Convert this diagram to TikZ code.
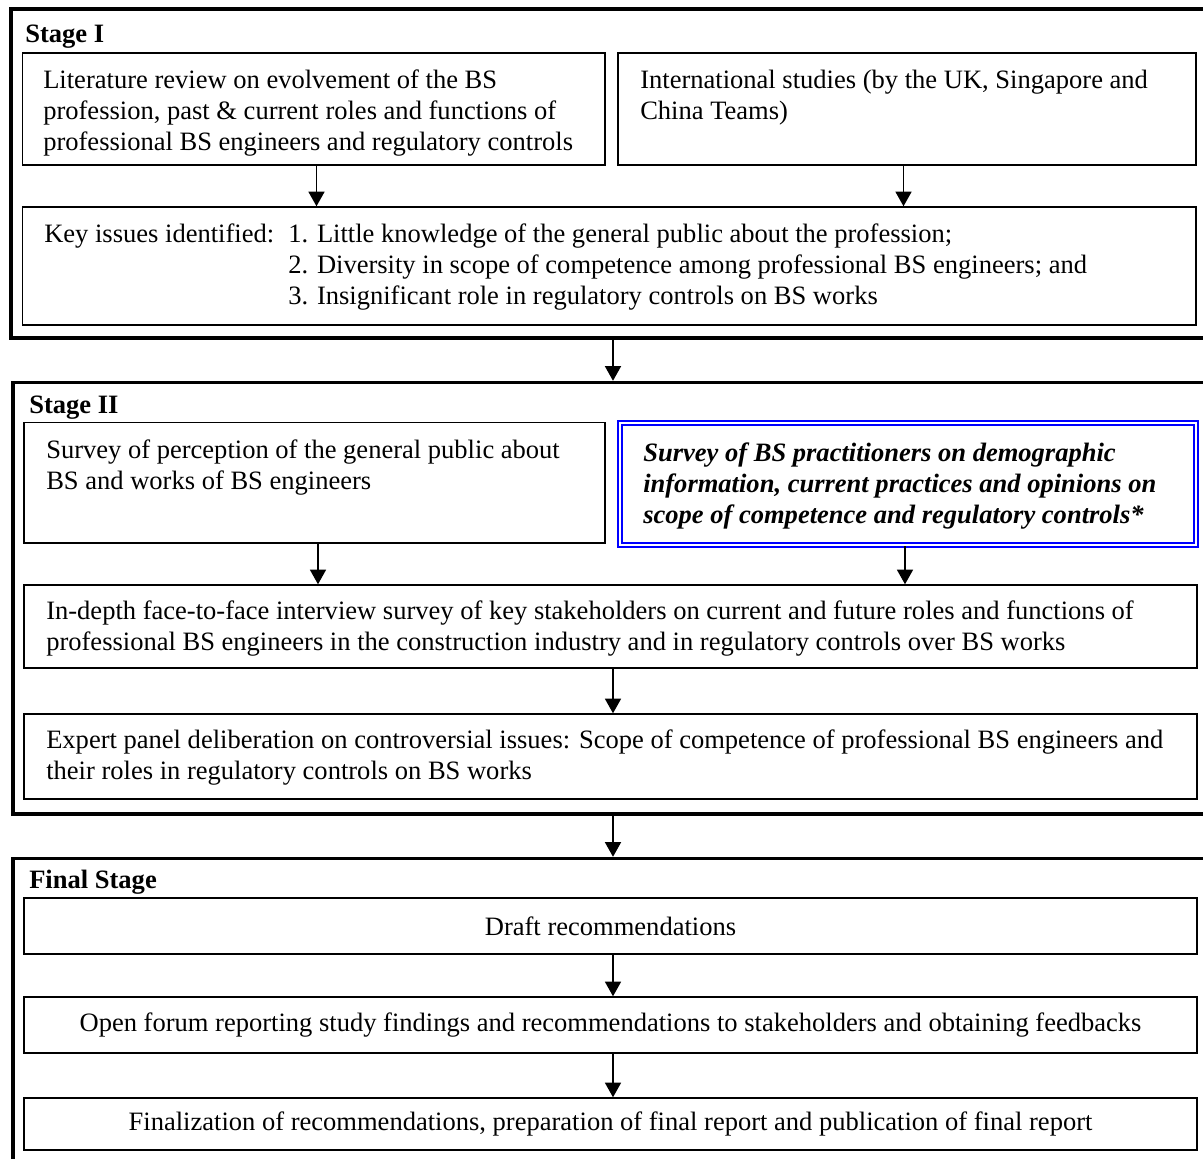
\documentclass[tikz,border=0pt]{standalone}
\usepackage{fontspec}
\setmainfont{Liberation Serif}
\usetikzlibrary{fit,arrows.meta,calc}
\definecolor{hlblue}{RGB}{0,0,255}
\begin{document}
\begin{tikzpicture}[x=0.75pt,y=-0.75pt,
  font=\fontsize{19.9pt}{23.4pt}\selectfont,
  stagebox/.style={draw, line width=2.6pt, inner sep=0pt},
  stepbox/.style={draw, line width=1.1pt, inner sep=0pt},
  bluebox/.style={draw=hlblue, double=white, line width=1.6pt, double distance=1.4pt, inner sep=0pt},
  txt/.style={inner sep=0pt, align=left, anchor=base west},
  ctxt/.style={inner sep=0pt, align=center},
  stagelabel/.style={inner sep=0pt, anchor=base west, font=\fontsize{19.9pt}{23.4pt}\selectfont\bfseries},
  arr/.style={line width=1.3pt, -{Triangle[length=11pt,width=12pt]}}
]
\useasboundingbox (0,0) rectangle (1203,1158);
\clip (0,0) rectangle (1203,1158);

% column coordinates for arrows
\coordinate (mid) at (613,0);
\coordinate (colA) at (316.5,0);
\coordinate (colB) at (903.5,0);
\coordinate (colC) at (318,0);
\coordinate (colD) at (905,0);

% ---------------- Stage I ----------------
\node[stagebox, fit={(11,9) (1220,338)}] (stage1) {};
\node[stagelabel] (s1lab) at (25,42) {Stage I};

\node[stepbox, fit={(22.5,53) (605,165)}] (lit) {};
% multi-line texts: base anchor = baseline of last line
\node[txt] (litT) at (43,150.4) {Literature review on evolvement of the BS\\profession, past \& current roles and functions of\\professional BS engineers and regulatory controls};

\node[stepbox, fit={(618,53) (1196,165)}] (intl) {};
\node[txt] (intlT) at (640,119.2) {International studies (by the UK, Singapore and\\China Teams)};

\node[stepbox, fit={(22.5,207) (1196,325)}] (key) {};
\node[txt] (keyT) at (44,242) {Key issues identified:};
\node[txt] (keyL) at (288,304.4) {1. Little knowledge of the general public about the profession;\\2. Diversity in scope of competence among professional BS engineers; and\\3. Insignificant role in regulatory controls on BS works};

\draw[arr] (lit.south -| colA) -- (key.north -| colA);
\draw[arr] (intl.south -| colB) -- (key.north -| colB);

% ---------------- Stage II ----------------
\node[stagebox, fit={(13,382.5) (1220,814)}] (stage2) {};
\node[stagelabel] (s2lab) at (29,413) {Stage II};

\draw[arr] (stage1.south -| mid) -- (stage2.north -| mid);

\node[stepbox, fit={(24,422.5) (605,543)}] (perc) {};
\node[txt] (percT) at (46,489.2) {Survey of perception of the general public about\\BS and works of BS engineers};

\node[bluebox, fit={(620,423) (1196,545)}] (prac) {};
\node[txt, font=\fontsize{19.9pt}{23.4pt}\selectfont\bfseries\itshape] (pracT) at (643,523.4) {Survey of BS practitioners on demographic\\information, current practices and opinions on\\scope of competence and regulatory controls*};

\node[stepbox, fit={(24,585) (1197,668)}] (intv) {};
\node[txt] (intvT) at (46,650.2) {In-depth face-to-face interview survey of key stakeholders on current and future roles and functions of\\professional BS engineers in the construction industry and in regulatory controls over BS works};

\draw[arr] (perc.south -| colC) -- (intv.north -| colC);
\draw[arr] (prac.south -| colD) -- (intv.north -| colD);

\node[stepbox, fit={(24,714) (1197,799)}] (expt) {};
\node[txt] (exptT) at (46,779.2) {Expert panel deliberation on controversial issues: Scope of competence of professional BS engineers and\\their roles in regulatory controls on BS works};

\draw[arr] (intv.south -| mid) -- (expt.north -| mid);

% ---------------- Final Stage ----------------
\node[stagebox, fit={(13,858.5) (1220,1180)}] (stage3) {};
\node[stagelabel] (s3lab) at (29,888) {Final Stage};

\draw[arr] (stage2.south -| mid) -- (stage3.north -| mid);

\node[stepbox, fit={(24,898) (1197,954)}] (draft) {};
\node[ctxt] (draftT) at (draft.center) {Draft recommendations};

\node[stepbox, fit={(24,997) (1197,1053)}] (forum) {};
\node[ctxt] (forumT) at (forum.center) {Open forum reporting study findings and recommendations to stakeholders and obtaining feedbacks};

\node[stepbox, fit={(24,1098) (1197,1150)}] (final) {};
\node[ctxt] (finalT) at (final.center) {Finalization of recommendations, preparation of final report and publication of final report};

\draw[arr] (draft.south -| mid) -- (forum.north -| mid);
\draw[arr] (forum.south -| mid) -- (final.north -| mid);
\end{tikzpicture}
\end{document}
